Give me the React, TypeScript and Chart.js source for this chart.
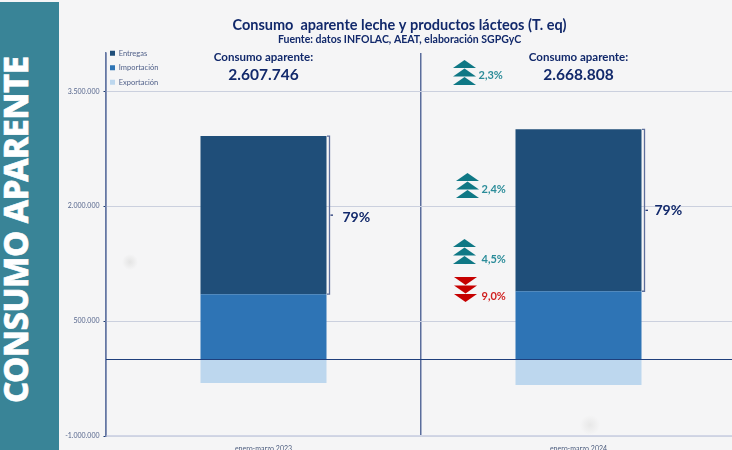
import React, { useEffect, useRef } from "react";
import { Chart, registerables } from "chart.js";

Chart.register(...registerables);

const categories = ["enero-marzo 2023", "enero-marzo 2024"];
const entregas = [2063000, 2113000];
const importacion = [852000, 890000];
const exportacion = [-307000, -334000];
const consumoTotales = ["2.607.746", "2.668.808"];
const shareLabels = ["79%", "79%"];
const yTicks = [-1000000, 500000, 2000000, 3500000];
const changeLabels = ["2,3%", "2,4%", "4,5%", "9,0%"];
const legendOrder = ["Entregas", "Importación", "Exportación"];

const NAVY = "#12296b";
const FONT = "Lato, 'Noto Sans', sans-serif";
const TEAL = "#0f7885";
const TEAL_TXT = "#2b8c99";
const RED = "#c60000";

const fmt = (v: number) =>
  (v < 0 ? "-" : "") + Math.abs(v).toString().replace(/\B(?=(\d{3})+(?!\d))/g, ".");

function text(ctx: CanvasRenderingContext2D, s: string, x: number, y: number, font: string, color: string, align: CanvasTextAlign = "center") {
  ctx.font = font;
  ctx.fillStyle = color;
  ctx.textAlign = align;
  ctx.textBaseline = "middle";
  ctx.fillText(s, x, y);
}

function arrows(ctx: CanvasRenderingContext2D, cx: number, top: number, up: boolean, color: string) {
  ctx.fillStyle = color;
  const w = 11.5;
  const h = 8;
  for (let i = 0; i < 3; i++) {
    const y = top + i * 8.5;
    ctx.beginPath();
    if (up) {
      ctx.moveTo(cx, y);
      ctx.lineTo(cx + w, y + h);
      ctx.lineTo(cx - w, y + h);
    } else {
      ctx.moveTo(cx - w, y);
      ctx.lineTo(cx + w, y);
      ctx.lineTo(cx, y + h);
    }
    ctx.closePath();
    ctx.fill();
  }
}

const overlay = {
  id: "overlay",
  afterLayout(chart: any) {
    const lg = chart.legend;
    if (lg) {
      lg.top = 42.5;
      lg.left = 103;
      (lg.legendHitBoxes || []).forEach((h: any) => {
        h.left = 110;
      });
    }
  },
  afterDatasetsDraw(chart: any) {
    const { ctx, chartArea } = chart;
    const { x, y } = chart.scales;
    ctx.save();

    // zero baseline
    const y0 = Math.round(y.getPixelForValue(0)) + 0.5;
    ctx.strokeStyle = "#1f3f7c";
    ctx.lineWidth = 1;
    ctx.beginPath();
    ctx.moveTo(chartArea.left, y0);
    ctx.lineTo(chartArea.right, y0);
    ctx.stroke();

    // titles
    text(ctx, "Consumo  aparente leche y productos lácteos (T. eq)", 399.5, 25.5, `bold 14.5px ${FONT}`, NAVY);
    text(ctx, "Fuente: datos INFOLAC, AEAT, elaboración SGPGyC", 399.5, 40, `bold 10.5px ${FONT}`, NAVY);

    const shareDx = [16, 13];
    const shareDy = [2, 0];
    categories.forEach((_, i) => {
      const bar = chart.getDatasetMeta(1).data[i];
      const cx = x.getPixelForValue(i);
      const right = cx + bar.width / 2;
      text(ctx, "Consumo aparente:", cx, 57.5, `bold 11.5px ${FONT}`, NAVY);
      text(ctx, consumoTotales[i], cx, 75, `bold 15.5px ${FONT}`, NAVY);

      // bracket around the Entregas segment
      const top = y.getPixelForValue(importacion[i] + entregas[i]);
      const bot = y.getPixelForValue(importacion[i]);
      const mid = (top + bot) / 2;
      ctx.strokeStyle = "#5d6f9c";
      ctx.lineWidth = 1.3;
      ctx.beginPath();
      ctx.moveTo(right + 0.5, top);
      ctx.lineTo(right + 3, top);
      ctx.lineTo(right + 3, bot);
      ctx.lineTo(right + 0.5, bot);
      ctx.stroke();
      ctx.strokeStyle = NAVY;
      ctx.lineWidth = 1.2;
      ctx.beginPath();
      ctx.moveTo(right + 4, mid);
      ctx.lineTo(right + 6.5, mid);
      ctx.stroke();
      text(ctx, shareLabels[i], right + shareDx[i], mid + shareDy[i], `bold 14px ${FONT}`, NAVY, "left");
    });

    // change markers, anchored on the second category's left side
    const c2 = x.getPixelForValue(1);
    const left = c2 - 114;
    arrows(ctx, left, 60, true, TEAL);
    text(ctx, changeLabels[0], left + 14, 75.5, `bold 11px ${FONT}`, TEAL_TXT, "left");
    arrows(ctx, left + 3, 173, true, TEAL);
    text(ctx, changeLabels[1], left + 17, 189.5, `bold 11px ${FONT}`, TEAL_TXT, "left");
    arrows(ctx, left, 239, true, TEAL);
    text(ctx, changeLabels[2], left + 17, 259.5, `bold 11px ${FONT}`, TEAL_TXT, "left");
    arrows(ctx, left + 1, 277, false, RED);
    text(ctx, changeLabels[3], left + 17, 296, `bold 11px ${FONT}`, "#d02020", "left");

    ctx.restore();
  },
};

export default function App() {
  const ref = useRef<HTMLCanvasElement>(null);

  useEffect(() => {
    document.body.style.margin = "0";
    document.body.style.overflow = "hidden";
    const chart = new Chart(ref.current as HTMLCanvasElement, {
      type: "bar",
      data: {
        labels: categories,
        datasets: [
          { label: "Importación", data: importacion, backgroundColor: "#2e74b5", stack: "a" },
          { label: "Entregas", data: entregas, backgroundColor: "#1f4e79", stack: "a" },
          { label: "Exportación", data: exportacion, backgroundColor: "#bdd7ee", stack: "a" },
        ],
      },
      options: {
        responsive: false,
        animation: false,
        layout: { padding: { top: 53, left: 0, right: 0, bottom: 0 } },
        datasets: { bar: { categoryPercentage: 1, barPercentage: 0.4 } },
        plugins: {
          tooltip: { enabled: false },
          title: { display: false },
          legend: {
            position: "chartArea",
            align: "start",
            labels: {
              boxWidth: 5,
              boxHeight: 5,
              padding: 7,
              color: "#4f5f88",
              font: { size: 7.5, family: FONT },
              sort: (a: any, b: any) => legendOrder.indexOf(a.text) - legendOrder.indexOf(b.text),
            },
          },
        },
        scales: {
          x: {
            stacked: true,
            afterFit: (s: any) => { s.height = 14; },
            grid: { offset: true, color: "#5a6d9c", lineWidth: 1.5, drawTicks: false },
            border: { color: "#d2d6e6", width: 1.5 },
            ticks: { color: "#4a5a7c", font: { size: 7, family: FONT }, padding: 9 },
          },
          y: {
            stacked: true,
            min: -1000000,
            max: 4000000,
            afterFit: (s: any) => { s.width = 106; },
            afterBuildTicks: (s: any) => { s.ticks = yTicks.map((value) => ({ value })); },
            grid: { color: "#cbd0de", lineWidth: 1, tickColor: "#1b3a72", tickLength: 2.5 },
            border: { color: "#6577a3", width: 1.5 },
            ticks: {
              color: "#55658c",
              font: { size: 7, family: FONT },
              padding: 4,
              callback: (v: any) => fmt(Number(v)),
            },
          },
        },
      },
      plugins: [overlay],
    } as any);
    return () => chart.destroy();
  }, []);

  return (
    <div
      style={{
        position: "relative",
        width: 732,
        height: 450,
        overflow: "hidden",
        background:
          "radial-gradient(circle at 130px 262px, #e4e4e4 0, transparent 8px), radial-gradient(circle at 590px 425px, #e8e8e8 0, transparent 10px), #f5f5f6",
      }}
    >
      <div
        style={{
          position: "absolute",
          left: 0,
          top: 2,
          width: 59,
          height: 448,
          background: "#398497",
        }}
      >
        <div
          style={{
            position: "absolute",
            left: -1,
            top: 401,
            transformOrigin: "0 0",
            transform: "rotate(-90deg)",
            whiteSpace: "nowrap",
            color: "#ffffff",
            fontFamily: "'Noto Sans', sans-serif",
            fontWeight: 800,
            fontSize: 33,
            lineHeight: "33px",
            letterSpacing: "-0.5px",
            WebkitTextStroke: "0.6px #ffffff",
          }}
        >
          CONSUMO APARENTE
        </div>
      </div>
      <canvas
        ref={ref}
        width={736}
        height={450}
        style={{ position: "absolute", left: 0, top: 0, width: 736, height: 450, filter: "blur(0.35px)" }}
      />
    </div>
  );
}
